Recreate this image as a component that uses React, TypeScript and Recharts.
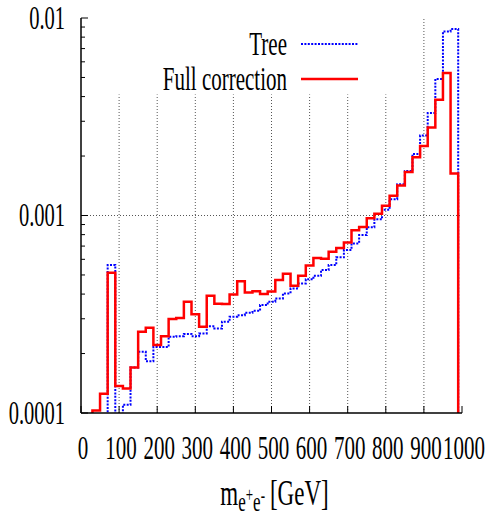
import React from "react";
import { Label, Legend, Line, LineChart, ReferenceLine, XAxis, YAxis } from "recharts";

// Values off the bottom of the log scale (empty bins) are drawn below 1e-4 and clipped.
const OFF = 1e-5;

// Lower bin edges (20 GeV bins), last entry closes the final step.
const binEdges = [
  10, 30, 50, 70, 90, 110, 130, 150, 170, 190,
  210, 230, 250, 270, 290, 310, 330, 350, 370, 390,
  410, 430, 450, 470, 490, 510, 530, 550, 570, 590,
  610, 630, 650, 670, 690, 710, 730, 750, 770, 790,
  810, 830, 850, 870, 890, 910, 930, 950, 970, 990,
  1010,
];

const treeValues = [
  OFF, OFF, OFF, 5.61e-4, OFF, 1.1e-4, 1.7e-4, 2.04e-4, 1.83e-4, 2.16e-4,
  2.16e-4, 2.43e-4, 2.45e-4, 2.51e-4, 2.45e-4, 2.53e-4, 2.75e-4, 2.68e-4, 2.9e-4, 3.07e-4,
  3.13e-4, 3.22e-4, 3.29e-4, 3.52e-4, 3.66e-4, 3.8e-4, 4.03e-4, 4.27e-4, 4.53e-4, 4.75e-4,
  4.95e-4, 5.3e-4, 5.61e-4, 6.14e-4, 6.68e-4, 7.22e-4, 7.96e-4, 8.71e-4, 9.57e-4, 1.07e-3,
  1.21e-3, 1.44e-3, 1.68e-3, 2.05e-3, 2.54e-3, 3.3e-3, 4.91e-3, 8.55e-3, 8.8e-3, OFF,
];

const fullValues = [
  OFF, 1.03e-4, 1.25e-4, 5.13e-4, 1.37e-4, 1.33e-4, 1.7e-4, 2.58e-4, 2.7e-4, 2.21e-4,
  2.45e-4, 2.99e-4, 3.03e-4, 3.66e-4, 3.16e-4, 2.73e-4, 3.92e-4, 3.57e-4, 3.56e-4, 3.98e-4,
  4.64e-4, 4.08e-4, 4.14e-4, 4.0e-4, 4.12e-4, 4.71e-4, 5.07e-4, 4.41e-4, 4.95e-4, 5.59e-4,
  6.09e-4, 6.04e-4, 6.55e-4, 6.84e-4, 7.31e-4, 8.41e-4, 8.74e-4, 9.68e-4, 1.02e-3, 1.12e-3,
  1.26e-3, 1.42e-3, 1.66e-3, 1.97e-3, 2.25e-3, 2.79e-3, 3.85e-3, 5.26e-3, 1.63e-3, OFF,
];

const xTicks = [0, 100, 200, 300, 400, 500, 600, 700, 800, 900, 1000];
const yTicks = [
  0.0001, 0.0002, 0.0003, 0.0004, 0.0005, 0.0006, 0.0007, 0.0008, 0.0009,
  0.001, 0.002, 0.003, 0.004, 0.005, 0.006, 0.007, 0.008, 0.009, 0.01,
];
const yTickLabels: Record<string, string> = { "0.0001": "0.0001", "0.001": "0.001", "0.01": "0.01" };

// grid lines; the ones under the key box stop at its lower edge
const gridXShort = [100, 200, 300, 400, 500, 600, 700, 800];
const gridXFull = [900];
const gridY = [0.001];
const KEY_BOTTOM = 0.0041;

const SERIES = [
  { key: "tree", name: "Tree", color: "#0000ff", width: 2, dash: "2 1.4" },
  { key: "full", name: "Full correction", color: "#ff0000", width: 2.5, dash: undefined },
];

const data = binEdges.map((x, i) => ({
  x,
  tree: treeValues[Math.min(i, treeValues.length - 1)],
  full: fullValues[Math.min(i, fullValues.length - 1)],
}));

const FONT = "'Liberation Serif', 'Times New Roman', Times, serif";
const GRID = { stroke: "#555", strokeDasharray: "1 2", strokeWidth: 1 };

// gnuplot's postscript text looks tall and narrow, so stretch it vertically
function Stretched({ x, y, anchor, size, children }: any) {
  return (
    <text
      transform={`translate(${x} ${y}) scale(1 1.6)`}
      textAnchor={anchor}
      dominantBaseline="central"
      fontFamily={FONT}
      fontSize={size}
      fill="#000"
    >
      {children}
    </text>
  );
}

const isMajor = (v: number) => Math.abs(Math.log10(v) - Math.round(Math.log10(v))) < 1e-6;

function BottomTick({ x, y, payload }: any) {
  return (
    <g>
      <line x1={x} y1={y} x2={x} y2={y - 7} stroke="#000" />
      <Stretched x={x + 2} y={y + 35} anchor="middle" size={21}>
        {payload.value}
      </Stretched>
    </g>
  );
}

function TopTick({ x, y }: any) {
  return <line x1={x} y1={y} x2={x} y2={y + 7} stroke="#000" />;
}

function LeftTick({ x, y, payload }: any) {
  const major = isMajor(payload.value);
  const label = yTickLabels[String(payload.value)];
  return (
    <g>
      <line x1={x} y1={y} x2={x + (major ? 7 : 4)} y2={y} stroke="#000" />
      {label && (
        <Stretched x={x - 16} y={y} anchor="end" size={20.5}>
          {label}
        </Stretched>
      )}
    </g>
  );
}

function RightTick({ x, y, payload }: any) {
  const major = isMajor(payload.value);
  return <line x1={x} y1={y} x2={x - (major ? 7 : 4)} y2={y} stroke="#000" />;
}

function AxisTitle(props: any) {
  const vb = props.viewBox ?? { x: 81, y: 413, width: 381 };
  const cx = vb.x + vb.width / 2 + 3;
  const by = vb.y + 92;
  return (
    <text
      transform={`translate(${cx} ${by}) scale(1 1.6)`}
      textAnchor="middle"
      fontFamily={FONT}
      fontSize={23}
      fill="#000"
    >
      m
      <tspan fontSize={17} dy={4}>e</tspan>
      <tspan fontSize={13} dy={-6}>+</tspan>
      <tspan fontSize={17} dy={6}>e</tspan>
      <tspan fontSize={13} dy={-6}>-</tspan>
      <tspan fontSize={23} dy={2} dx={5}>[GeV]</tspan>
    </text>
  );
}

function KeyBox({ payload }: any) {
  const names = (payload ?? []).map((p: any) => p.value);
  const rows = SERIES.filter((s) => names.length === 0 || names.includes(s.name));
  return (
    <svg width={230} height={80} style={{ overflow: "visible", display: "block" }}>
      {rows.map((s, i) => {
        const cy = 24 + i * 35;
        return (
          <g key={s.key}>
            <Stretched x={147} y={cy} anchor="end" size={21}>
              {s.name}
            </Stretched>
            <line
              x1={161}
              x2={218}
              y1={cy}
              y2={cy}
              stroke={s.color}
              strokeWidth={s.width}
              strokeDasharray={s.dash}
            />
          </g>
        );
      })}
    </svg>
  );
}

export default function App() {
  return (
    <div style={{ position: "absolute", left: 0, top: 0, width: 490, height: 517, background: "#fff" }}>
      <LineChart width={490} height={517} data={data} margin={{ top: 18, right: 28, left: 0, bottom: 0 }}>
        <XAxis
          dataKey="x"
          type="number"
          domain={[0, 1000]}
          allowDataOverflow
          ticks={xTicks}
          interval={0}
          height={104}
          tickSize={0}
          tickMargin={0}
          tickLine={false}
          tick={BottomTick}
          axisLine={{ stroke: "#000", strokeWidth: 1.5 }}
        >
          <Label value="m" content={AxisTitle} />
        </XAxis>
        <XAxis
          xAxisId="top"
          orientation="top"
          type="number"
          domain={[0, 1000]}
          allowDataOverflow
          ticks={xTicks}
          interval={0}
          height={0}
          tickSize={0}
          tickMargin={0}
          tickLine={false}
          tick={TopTick}
          axisLine={{ stroke: "#000", strokeWidth: 1.5 }}
        />
        <YAxis
          type="number"
          scale="log"
          domain={[0.0001, 0.01]}
          allowDataOverflow
          ticks={yTicks}
          interval={0}
          width={81}
          tickSize={0}
          tickMargin={0}
          tickLine={false}
          tick={LeftTick}
          axisLine={{ stroke: "#000", strokeWidth: 1.5 }}
        />
        <YAxis
          yAxisId="right"
          orientation="right"
          type="number"
          scale="log"
          domain={[0.0001, 0.01]}
          allowDataOverflow
          ticks={yTicks}
          interval={0}
          width={0}
          tickSize={0}
          tickMargin={0}
          tickLine={false}
          tick={RightTick}
          axisLine={{ stroke: "#000", strokeWidth: 1.5 }}
        />
        {gridXShort.map((gx) => (
          <ReferenceLine
            key={`gx${gx}`}
            segment={[
              { x: gx, y: 0.0001 },
              { x: gx, y: KEY_BOTTOM },
            ]}
            {...GRID}
          />
        ))}
        {gridXFull.map((gx) => (
          <ReferenceLine key={`gf${gx}`} x={gx} {...GRID} />
        ))}
        {gridY.map((gy) => (
          <ReferenceLine key={`gy${gy}`} y={gy} {...GRID} />
        ))}
        {SERIES.map((s) => (
          <Line
            key={s.key}
            type="stepAfter"
            dataKey={s.key}
            name={s.name}
            stroke={s.color}
            strokeWidth={s.width}
            strokeDasharray={s.dash}
            dot={false}
            activeDot={false}
            isAnimationActive={false}
          />
        ))}
        <Legend
          layout="horizontal"
          verticalAlign="middle"
          align="center"
          content={(props: any) => <KeyBox payload={props.payload} />}
          wrapperStyle={{ position: "absolute", left: 140, top: 20, width: 230, height: 80 }}
        />
      </LineChart>
    </div>
  );
}
